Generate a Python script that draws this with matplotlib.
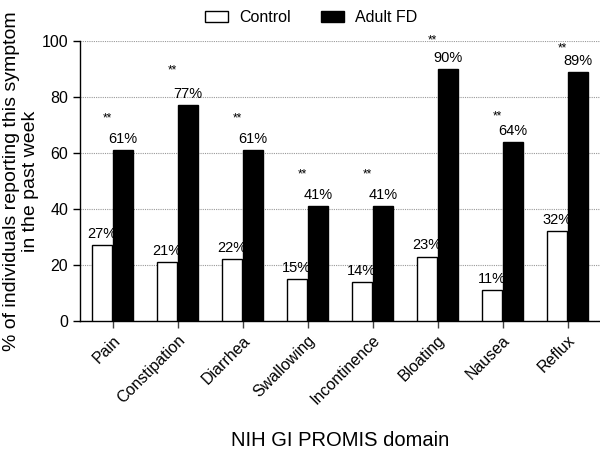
import matplotlib
matplotlib.use("Agg")
import matplotlib.pyplot as plt
from matplotlib.patches import Patch
import numpy as np

plt.rcParams['font.family'] = ['Liberation Sans', 'DejaVu Sans']

domains = ['Pain', 'Constipation', 'Diarrhea', 'Swallowing', 'Incontinence',
           'Bloating', 'Nausea', 'Reflux']
control = [27, 21, 22, 15, 14, 23, 11, 32]
adult_fd = [61, 77, 61, 41, 41, 90, 64, 89]
# where the ** marks sit (in axis units)
stars_y = [73.6, 90.7, 73.6, 53.6, 53.6, 101.4, 74.3, 98.6]

fig = plt.figure(figsize=(6, 4.53), dpi=100)
ax = fig.add_axes([80/600, 132/453, 520/600, 280/453])

x = np.arange(len(domains))
w = 0.3
ax.bar(x - 0.165, control, w, color='white', edgecolor='black', linewidth=1, zorder=3)
ax.bar(x + 0.165, adult_fd, w, color='black', edgecolor='black', linewidth=1, zorder=3)

for i in range(len(domains)):
    ax.annotate(f"{control[i]}%", (x[i] - 0.165, control[i]), xytext=(0, 3),
                textcoords='offset points', ha='center', va='bottom', fontsize=10.5)
    ax.annotate(f"{adult_fd[i]}%", (x[i] + 0.165, adult_fd[i]), xytext=(0, 3),
                textcoords='offset points', ha='center', va='bottom', fontsize=10.5)
    ax.text(x[i] - 0.08, stars_y[i] - 2.4, "**", ha='center', va='baseline', fontsize=8.5)

ax.set_xlim(-0.5, 7.5)
ax.set_ylim(0, 100)
ax.set_yticks([0, 20, 40, 60, 80, 100])
ax.set_xticks(x)
ax.set_xticklabels(domains, rotation=45, ha='right', rotation_mode='anchor', fontsize=11.5)
ax.tick_params(axis='y', labelsize=11.5, length=5, width=1, direction='out')
ax.tick_params(axis='x', length=5, width=1, direction='out', color='#444444')
ax.yaxis.grid(True, linestyle=(0, (1, 1)), color='#999999', linewidth=0.8, zorder=0)
ax.set_axisbelow(True)
for s in ['top', 'right']:
    ax.spines[s].set_visible(False)
ax.spines['left'].set_linewidth(1)
ax.spines['bottom'].set_linewidth(1)

fig.text(21/600, 0.60, "% of individuals reporting this symptom\nin the past week",
         rotation=90, ha='center', va='center', fontsize=14, linespacing=1.1)
fig.text(340/600, 1 - 440/453, "NIH GI PROMIS domain", ha='center', va='center', fontsize=14.5)

handles = [Patch(facecolor='white', edgecolor='black', linewidth=1, label='Control'),
           Patch(facecolor='black', edgecolor='black', label='Adult FD')]
fig.legend(handles=handles, loc='upper center', bbox_to_anchor=(311/600, 1.01), ncol=2,
           frameon=False, fontsize=11.5, handlelength=1.45, handleheight=0.7,
           handletextpad=0.7, columnspacing=1.9)

fig.savefig("out.png", dpi=100)
plt.close(fig)
